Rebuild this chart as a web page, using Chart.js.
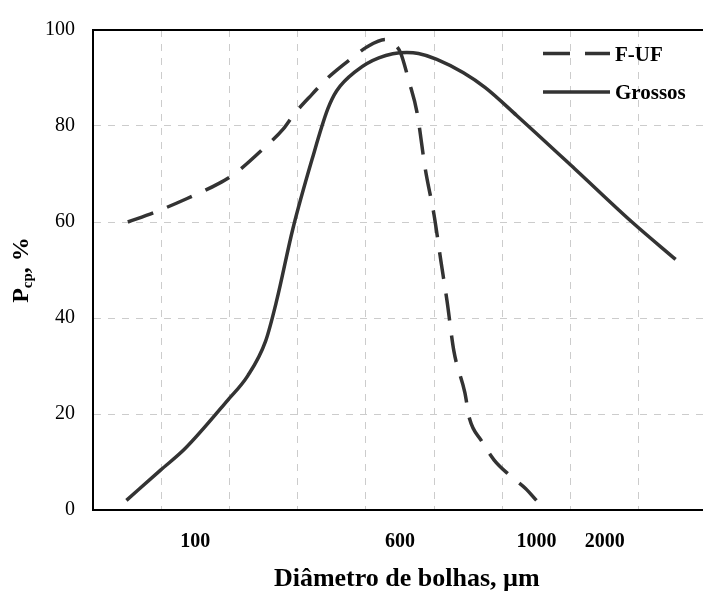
<!DOCTYPE html>
<html><head><meta charset="utf-8">
<script src="https://cdn.jsdelivr.net/npm/chart.js@4/dist/chart.umd.min.js"></script>
<style>html,body{margin:0;padding:0;overflow:hidden;background:#fff}
#wrap{position:relative;width:727px;height:592px}</style></head>
<body><div id="wrap"><canvas id="c"></canvas></div>
<script>
// Tick labels on the bubble-diameter axis (placed mid-interval, as in the figure)
const xTickPositions = [1.5, 4.5, 6.5, 7.5];
const xTickLabels = ['100', '600', '1000', '2000'];
const seriesNames = ['F-UF', 'Grossos'];
// F-UF (dashed)
const fufX = [0.51, 0.90, 1.38, 1.84, 2.07, 2.49, 2.79, 2.95, 3.21, 3.44, 3.80, 4.02, 4.29, 4.43, 4.51, 4.63, 4.75, 4.87, 5.00, 5.10, 5.19, 5.29, 5.45, 5.52, 5.69, 5.88, 6.11, 6.34, 6.50];
const fufY = [60, 62, 64.9, 68, 70, 75.2, 79.4, 82.5, 86.6, 90, 94.2, 96.5, 98.0, 96.9, 95.2, 89.4, 82.8, 71.1, 61.4, 51.8, 43.5, 33.1, 24.5, 19, 14.5, 10.4, 7.2, 4.5, 2.0];
// Grossos (solid)
const grossosX = [0.49, 0.99, 1.35, 1.97, 2.27, 2.53, 2.69, 2.93, 3.21, 3.44, 3.57, 3.86, 4.19, 4.60, 4.77, 5.04, 5.43, 5.75, 6.21, 7.06, 7.90, 8.54];
const grossosY = [2, 8.3, 12.8, 22.8, 28, 35.2, 43.5, 58.6, 73, 83.5, 87.3, 91.5, 94.2, 95.3, 95.1, 93.9, 91.1, 88, 82.2, 71.1, 60, 52.2];
const xTitle = 'Diâmetro de bolhas, µm';
const yTitleParts = ['P', 'cp', ', %'];

const FONT = '"Liberation Serif", "Times New Roman", serif';
const toPts = (xs, ys) => xs.map((x, i) => ({x: x, y: ys[i]}));

const decor = {
  id: 'decor',
  afterDraw(chart) {
    const {ctx, chartArea: a} = chart;
    ctx.save();
    // top frame line
    ctx.strokeStyle = '#000'; ctx.lineWidth = 2; ctx.setLineDash([]);
    ctx.beginPath(); ctx.moveTo(a.left - 1, a.top); ctx.lineTo(a.right, a.top); ctx.stroke();
    // legend
    chart.data.datasets.forEach((ds, i) => {
      const y = 53.5 + i * 38.5;
      ctx.setLineDash(ds.borderDash || []);
      ctx.lineWidth = ds.borderWidth; ctx.strokeStyle = ds.borderColor;
      ctx.beginPath(); ctx.moveTo(543, y); ctx.lineTo(610, y); ctx.stroke();
      ctx.setLineDash([]);
      ctx.fillStyle = '#000'; ctx.font = 'bold 21px ' + FONT; ctx.textBaseline = 'middle'; ctx.textAlign = 'left';
      ctx.fillText(ds.label, 615, y + 2);
    });
    // y-axis title with subscript
    const big = 'bold 24px ' + FONT, small = 'bold 15px ' + FONT;
    ctx.font = big;
    const w1 = ctx.measureText(yTitleParts[0]).width, w3 = ctx.measureText(yTitleParts[2]).width;
    ctx.font = small;
    const w2 = ctx.measureText(yTitleParts[1]).width;
    const total = w1 + w2 + w3;
    const cy = (a.top + a.bottom) / 2;
    ctx.translate(28, 0); ctx.rotate(-Math.PI / 2);
    ctx.textBaseline = 'alphabetic'; ctx.textAlign = 'left';
    let lx = -(cy + total / 2);
    ctx.font = big; ctx.fillText(yTitleParts[0], lx, 0);
    ctx.font = small; ctx.fillText(yTitleParts[1], lx + w1, 4);
    ctx.font = big; ctx.fillText(yTitleParts[2], lx + w1 + w2, 0);
    ctx.restore();
  }
};

new Chart(document.getElementById('c'), {
  type: 'line',
  data: {
    datasets: [
      {label: seriesNames[0], data: toPts(fufX, fufY), borderColor: '#333333', borderWidth: 3.5, borderDash: [27, 15],
       pointRadius: 0, cubicInterpolationMode: 'monotone', fill: false},
      {label: seriesNames[1], data: toPts(grossosX, grossosY), borderColor: '#333333', borderWidth: 3.5,
       pointRadius: 0, cubicInterpolationMode: 'monotone', fill: false}
    ]
  },
  options: {
    responsive: true, maintainAspectRatio: false, animation: false,
    layout: {padding: {top: 26, left: 0, right: 0, bottom: 0}},
    plugins: {legend: {display: false}, tooltip: {enabled: false}},
    scales: {
      x: {
        type: 'linear', min: 0, max: 9.2,
        afterFit(s) { s.height = 82; },
        afterBuildTicks(s) { const t = []; for (let v = 0; v <= 9; v += 0.5) t.push({value: v}); s.ticks = t; },
        ticks: {autoSkip: false, maxRotation: 0, minRotation: 0, padding: 20, color: '#000',
          font: {family: FONT, size: 20, weight: 'bold'},
          callback: (v) => { const i = xTickPositions.indexOf(v); return i >= 0 ? xTickLabels[i] : ''; }},
        grid: {drawTicks: false, lineWidth: 1,
          color: (c) => (c.tick && Number.isInteger(c.tick.value) && c.tick.value > 0) ? '#cccccc' : 'rgba(0,0,0,0)'},
        border: {color: '#000', width: 2, dash: [7, 7]},
        title: {display: true, text: xTitle, color: '#000', padding: 0,
          font: {family: FONT, size: 26, weight: 'bold', lineHeight: 1}}
      },
      y: {
        min: 0, max: 100,
        afterFit(s) { s.width = 93; },
        ticks: {stepSize: 20, padding: 18, color: '#000', font: {family: FONT, size: 20}},
        grid: {drawTicks: false, color: '#cccccc', lineWidth: 1},
        border: {color: '#000', width: 2, dash: [7, 7]}
      }
    }
  },
  plugins: [decor]
});
</script>
</body></html>
